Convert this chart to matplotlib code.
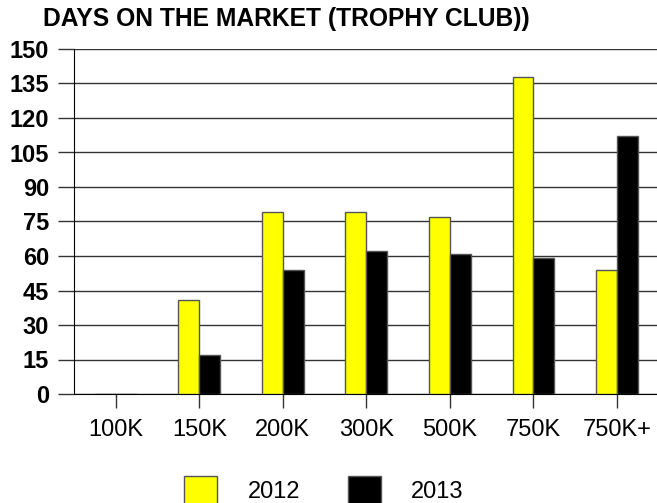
import numpy as np
import matplotlib
matplotlib.use("Agg")
import matplotlib.pyplot as plt
from matplotlib.patches import Patch

plt.rcParams['font.family'] = ['Liberation Sans', 'DejaVu Sans']

categories = ['100K', '150K', '200K', '300K', '500K', '750K', '750K+']
days_2012 = [0, 41, 79, 79, 77, 138, 54]
days_2013 = [0, 17, 54, 62, 61, 59, 112]
y_ticks = list(range(0, 151, 15))

W, H = 657, 503
fig = plt.figure(figsize=(W / 100, H / 100), dpi=100)
ax = fig.add_axes([74 / W, 109 / H, (W - 74) / W, (394 - 49) / H])

x = np.arange(len(categories))
bw = 0.25
ax.bar(x - bw / 2, days_2012, bw, color='#ffff00', edgecolor='#555555', linewidth=1, zorder=3)
ax.bar(x + bw / 2, days_2013, bw, color='#000000', edgecolor='#555555', linewidth=1, zorder=3)

ax.set_xlim(-0.5, 6.48)
ax.set_ylim(0, 150)
ax.set_yticks(y_ticks)
ax.set_yticklabels([str(v) for v in y_ticks], fontsize=17, fontweight='bold')
ax.set_xticks(x)
ax.set_xticklabels(categories, fontsize=17)

ax.yaxis.grid(True, color='#333333', linewidth=1, zorder=0)
ax.set_axisbelow(True)
ax.tick_params(axis='y', direction='out', length=11.5, width=1, color='#333333', pad=6.5)
ax.tick_params(axis='x', direction='out', length=10, width=1, color='#333333', pad=8)

for s in ['top', 'right']:
    ax.spines[s].set_visible(False)
ax.spines['left'].set_color('black')
ax.spines['bottom'].set_color('black')

fig.text(43 / W, 1 - 19 / H, 'DAYS ON THE MARKET (TROPHY CLUB))',
         fontsize=17.7, fontweight='bold', va='center', ha='left')

handles = [Patch(facecolor='#ffff00', edgecolor='#555555', label='2012'),
           Patch(facecolor='#000000', edgecolor='#555555', label='2013')]
fig.legend(handles=handles, loc='center', bbox_to_anchor=(324 / W, 1 - 490 / H),
           ncol=2, frameon=False, fontsize=17, handlelength=1.4, handleheight=1.4,
           handletextpad=1.3, columnspacing=2.0)

fig.savefig('out.png', dpi=100)
